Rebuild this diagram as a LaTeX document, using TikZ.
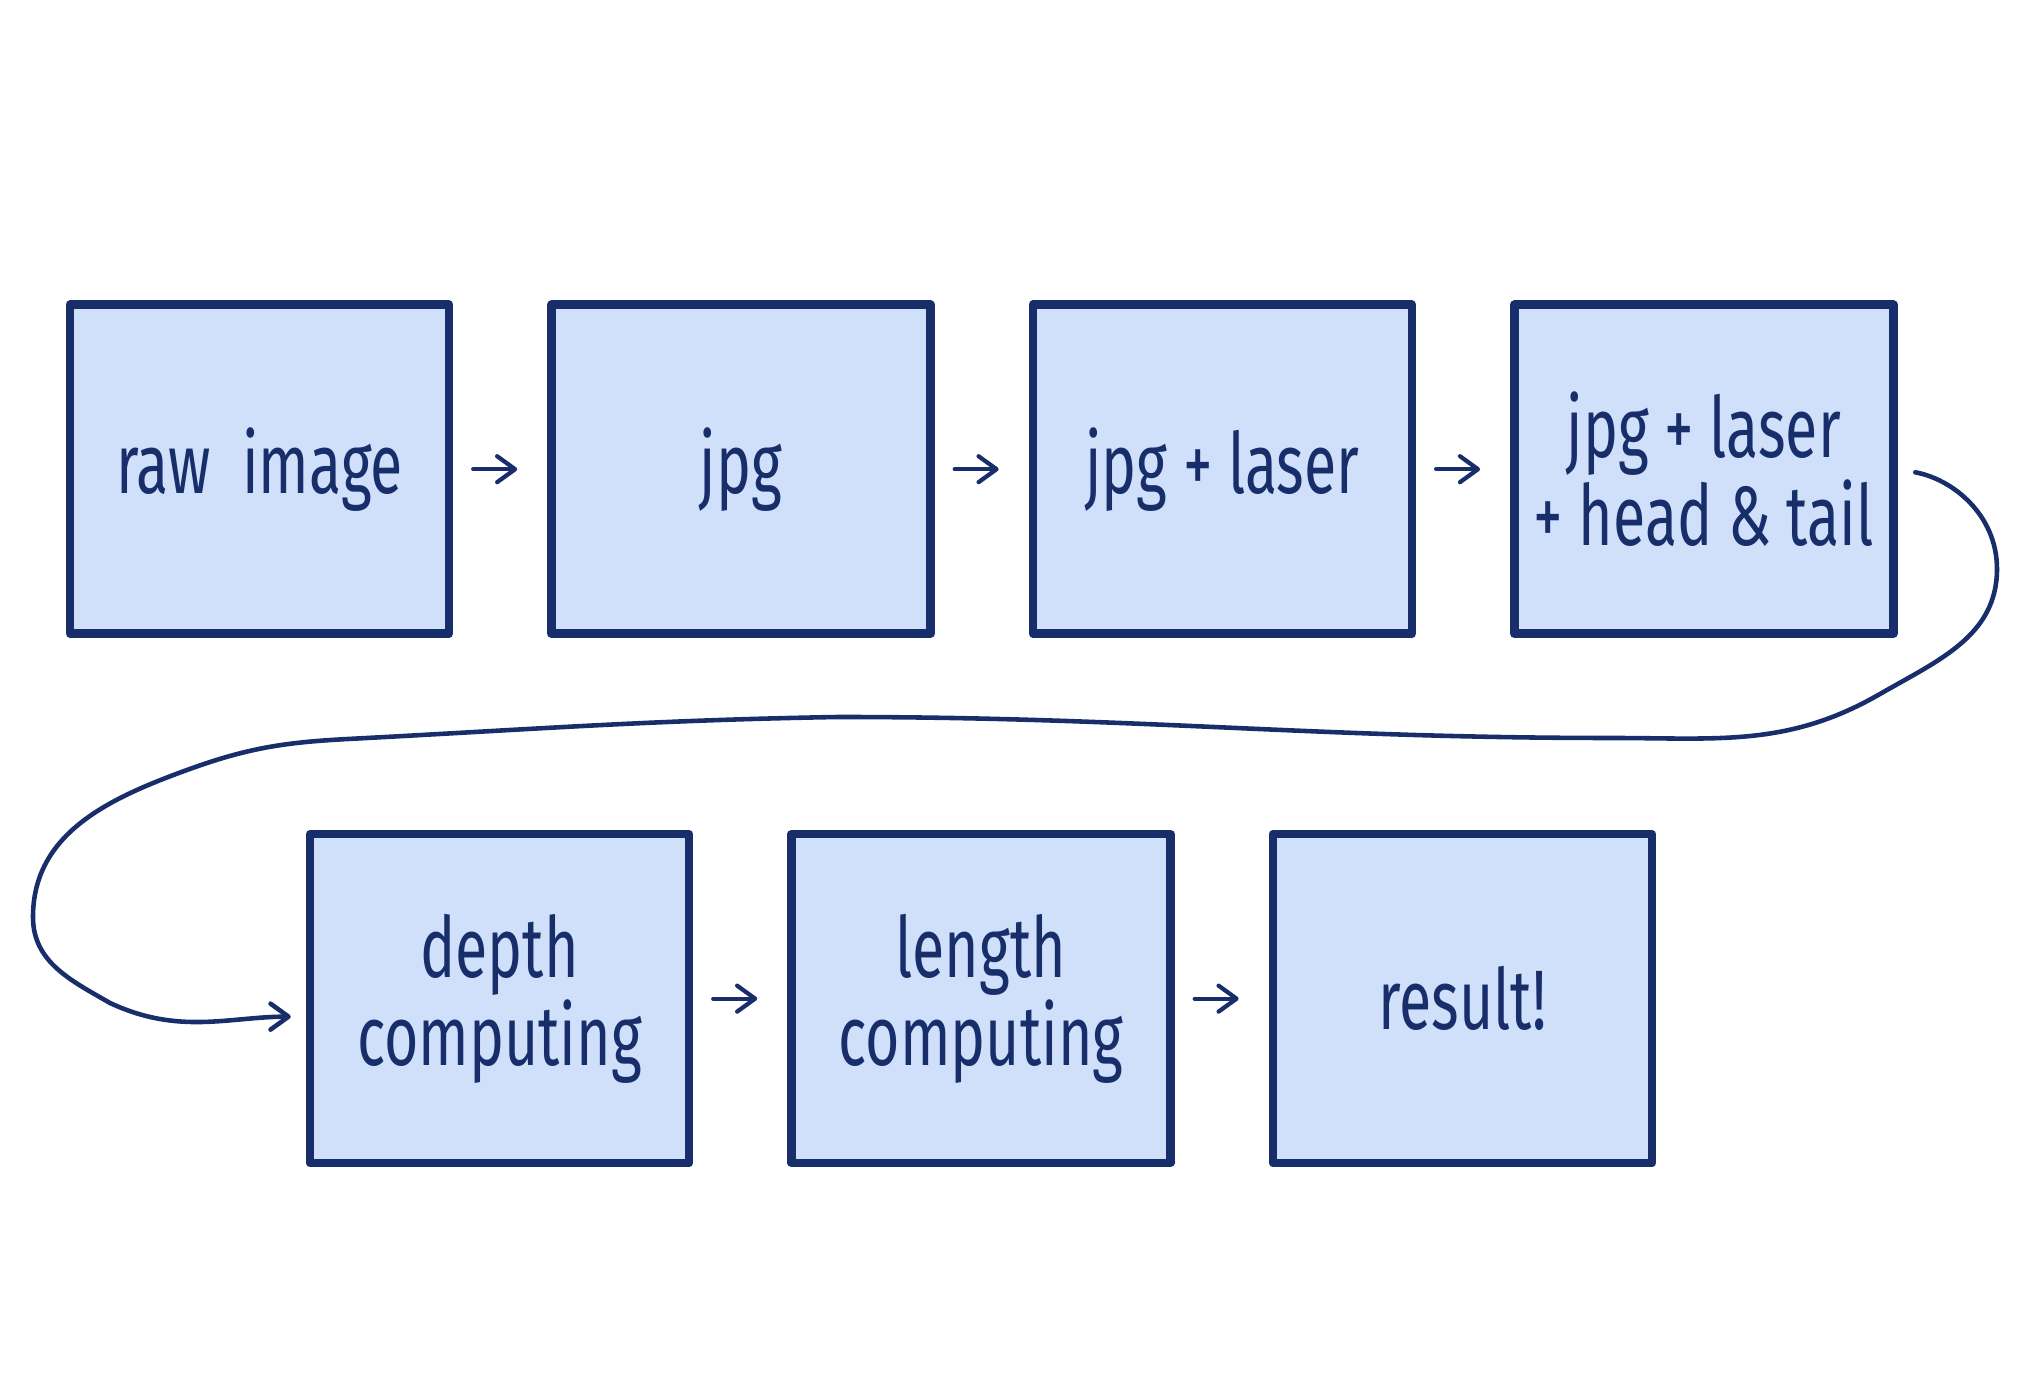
\documentclass[tikz,border=0pt]{standalone}
\usepackage{fontspec}
\newfontfamily\handfont[FakeStretch=0.7]{Fira Sans}
\usepackage{xcolor}
\definecolor{Ink}{HTML}{172E6B}
\definecolor{Paper}{HTML}{D0E0FA}
\usetikzlibrary{arrows.meta, positioning}

\begin{document}
\begin{tikzpicture}[
  font=\handfont\fontsize{24}{25}\selectfont,
  node distance=9.4mm,
  stage/.style={
    rectangle, minimum width=37.9mm, minimum height=32.9mm,
    align=center, inner sep=0pt,
    draw=Ink, fill=Paper, line width=2.4pt, line join=round, text=Ink
  },
  arr/.style={-{Straight Barb[length=1.8mm, width=2.6mm, round]},
    line width=1.2pt, color=Ink, line cap=round,
    shorten <=2mm, shorten >=3mm},
  wrap/.style={-{Straight Barb[length=1.8mm, width=2.6mm, round]},
    line width=1.3pt, color=Ink, line cap=round},
]

\useasboundingbox (0,0) rectangle (20.22,-13.98);

% top row
\node[stage, anchor=north west] (raw) at (0.658,-3.005) {raw~~image};
\node[stage, right=of raw]      (jpg)      {jpg};
\node[stage, right=of jpg]      (jpglaser) {jpg + laser};
\node[stage, right=of jpglaser] (headtail) {jpg + laser\\+ head \& tail};

% bottom row
\node[stage, below=19.2mm of raw, xshift=24mm] (depth) {depth\\computing};
\node[stage, right=of depth]  (length) {length\\computing};
\node[stage, right=of length] (result) {result!};

\draw[arr] (raw)      -- (jpg);
\draw[arr] (jpg)      -- (jpglaser);
\draw[arr] (jpglaser) -- (headtail);
\draw[arr] (depth)    -- (length);
\draw[arr] (length)   -- (result);

% the long way round
\draw[wrap, shorten <=1.8mm, shorten >=1.5mm] (headtail.east)
  to[out=-10, in=90]  (19.97,-5.69)
  to[out=-90, in=30]  (18.80,-6.94)
  to[out=-150, in=0]  (16.12,-7.38)
  to[out=180, in=0]   (8.38,-7.17)
  to[out=181, in=3]   (3.48,-7.39)
  to[out=183, in=20]  (1.87,-7.70)
  to[out=200, in=90]  (0.33,-9.17)
  to[out=-90, in=150] (1.10,-10.03)
  to[out=-25, in=180] ([yshift=-1.8mm]depth.west);

\end{tikzpicture}
\end{document}
